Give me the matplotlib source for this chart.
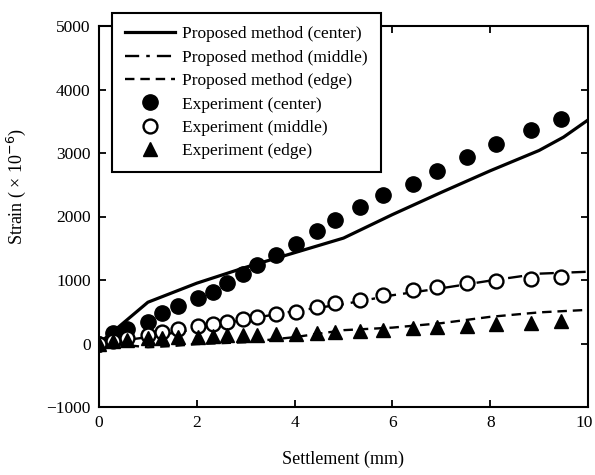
import matplotlib
matplotlib.use("Agg")
import matplotlib.pyplot as plt
from matplotlib.transforms import ScaledTranslation

plt.rcParams['font.family'] = ['Liberation Serif', 'DejaVu Serif']

# Experimental settlement positions (mm)
exp_x = [0, 0.29, 0.57, 1.0, 1.29, 1.61, 2.02, 2.33, 2.62, 2.95, 3.23, 3.62,
         4.03, 4.46, 4.83, 5.34, 5.81, 6.43, 6.92, 7.53, 8.12, 8.83, 9.45]
exp_center = [0, 160, 230, 340, 480, 590, 720, 810, 950, 1090, 1230, 1400,
              1560, 1770, 1940, 2150, 2340, 2510, 2720, 2940, 3140, 3360, 3530]
exp_middle = [0, 40, 80, 130, 180, 235, 270, 300, 340, 380, 420, 460,
              500, 570, 630, 690, 760, 840, 890, 950, 985, 1010, 1045]
exp_edge = [0, 40, 60, 80, 90, 100, 110, 120, 130, 140, 140, 145,
            150, 165, 180, 195, 210, 250, 260, 275, 300, 330, 350]

# Proposed method curves
pm_center_x = [0, 1.0, 2.0, 3.0, 4.0, 5.0, 6.0, 7.0, 8.0, 9.0, 9.5, 10.0]
pm_center_y = [0, 650, 950, 1200, 1430, 1660, 2030, 2380, 2720, 3040, 3250, 3520]
pm_middle_x = [0, 1, 2, 3, 4, 5, 6, 7, 8, 9, 10]
pm_middle_y = [0, 100, 230, 380, 510, 620, 760, 870, 990, 1100, 1130]
pm_edge_x = [0, 0.5, 1.0, 1.5, 2.0, 3.0, 4.0, 5.0, 6.0, 7.0, 8.0, 9.0, 10.0]
pm_edge_y = [0, -20, -60, -40, -10, 20, 100, 210, 250, 320, 420, 490, 530]

fig = plt.figure(figsize=(5.95, 4.75), dpi=100)
ax = fig.add_axes([99/595, 1-407/475, (588-99)/595, (407-26)/475])

ax.plot(pm_center_x, pm_center_y, '-', color='black', lw=2.3,
        label='Proposed method (center)')
ax.plot(pm_middle_x, pm_middle_y, color='black', lw=1.7, dashes=[6, 3, 1.5, 3],
        label='Proposed method (middle)')
ax.plot(pm_edge_x, pm_edge_y, color='black', lw=1.7, dashes=[4, 2.5],
        label='Proposed method (edge)')
ax.plot(exp_x, exp_center, 'o', color='black', ms=11, ls='none',
        label='Experiment (center)')
ax.plot(exp_x, exp_middle, 'o', mfc='white', mec='black', mew=1.7, ms=10,
        ls='none', label='Experiment (middle)')
ax.plot(exp_x, exp_edge, '^', color='black', ms=10, ls='none',
        label='Experiment (edge)')

ax.set_xlim(0, 10)
ax.set_ylim(-1000, 5000)
ax.set_xticks([0, 2, 4, 6, 8, 10])
ax.set_yticks([-1000, 0, 1000, 2000, 3000, 4000, 5000])
ax.tick_params(direction='in', top=True, right=True, length=5, width=1.3,
               labelsize=12.5, pad=6)
for s in ax.spines.values():
    s.set_linewidth(1.5)

ax.set_xlabel('Settlement (mm)', fontsize=13, labelpad=14)
ax.set_ylabel('Strain ( × 10$^{-6}$)', fontsize=13)
ax.yaxis.set_label_coords(-0.145, 0.58)

leg = ax.legend(loc='upper left', bbox_to_anchor=(13/489, 1 + 13/381),
                fontsize=12.5, frameon=True, fancybox=False, edgecolor='black',
                handlelength=2.9, handletextpad=0.4, labelspacing=0.42,
                borderpad=0.75, borderaxespad=0, framealpha=1)
leg.get_frame().set_linewidth(1.5)

fig.canvas.draw()
last = ax.get_xticklabels()[-1]
last.set_transform(last.get_transform() + ScaledTranslation(-3/72, 0, fig.dpi_scale_trans))

fig.savefig('out.png', dpi=100)
